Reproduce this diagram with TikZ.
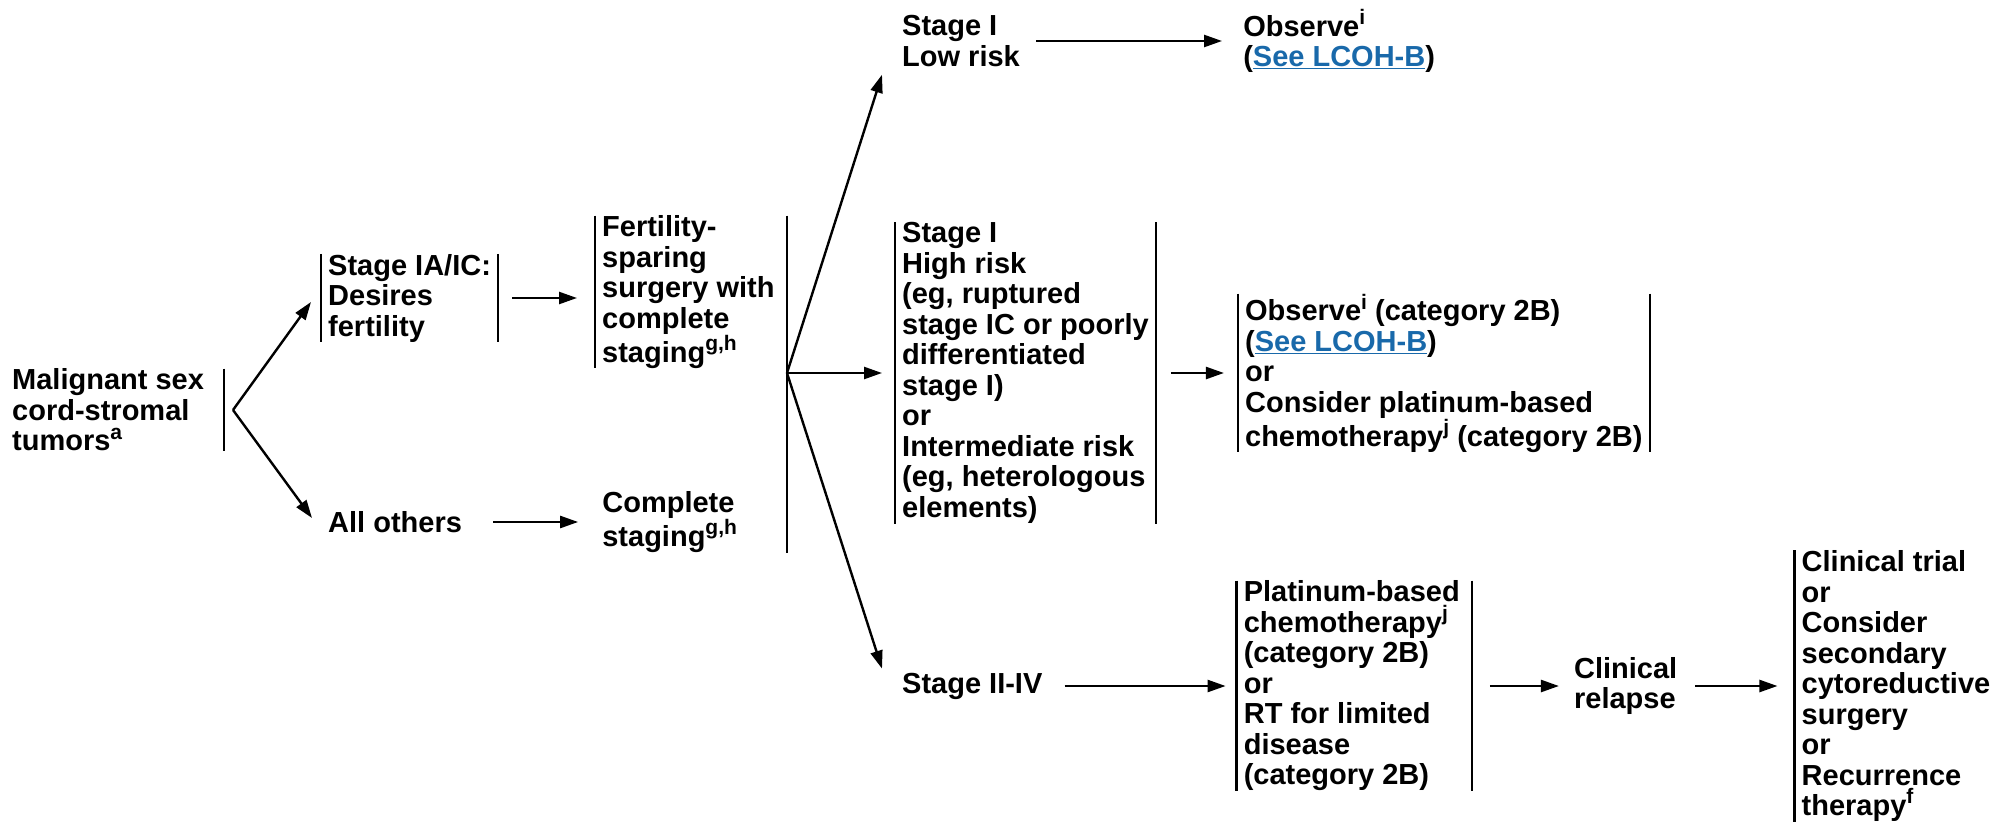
\documentclass[tikz,border=0pt]{standalone}
\usepackage{fontspec}
\setmainfont{Liberation Sans}
\usetikzlibrary{positioning,arrows.meta}

\definecolor{linkblue}{RGB}{25,105,170}
\newcommand{\fn}[1]{\raisebox{0.4em}{\fontsize{21}{21}\selectfont #1}}
\tikzset{
  box/.style={align=left, inner xsep=7pt, inner ysep=0pt, font=\bfseries\fontsize{29}{30.5}\selectfont},
  bar/.style={line width=2.6pt},
  arr/.style={line width=2.4pt, -{Triangle[length=18pt,width=12pt]}},
}

\begin{document}
\begin{tikzpicture}[x=1pt, y=-1pt]
        \useasboundingbox (0,0) rectangle (2011,830);
        \node[box, anchor=west] (tumor) at (5,410) {Malignant sex\\cord-stromal\\tumors\fn{a}} ; %
        \node[box, anchor=west] (desire) at (321,298) {Stage IA/IC:\\Desires\\fertility} ; %
        \node[box, anchor=west] (others) at (321,522) {All others} ; %
        \node[box, anchor=west] (sparing) at (595,292) {Fertility-\\sparing\\surgery with\\complete\\staging\fn{g,h}} ; %
        \node[box, right = 126pt of others] (complete) {Complete\\staging\fn{g,h}} ; %
        \node[box, anchor=west] (lowrisk) at (895,41) {Stage I\\Low risk} ; %
        \node[box, anchor=west] (highrisk) at (895,373) {Stage I\\High risk\\(eg, ruptured\\stage IC or poorly\\differentiated\\stage I)\\or\\Intermediate risk\\(eg, heterologous\\elements)} ; %
        \node[box, anchor=west] (advanced) at (895,686) {Stage II-IV} ; %
        \node[box, right = 209pt of lowrisk] (observe) {Observe\fn{i}\\(\textcolor{linkblue}{\underline{See LCOH-B}})} ; %
        \node[box, right = 82pt of highrisk] (optional) {Observe\fn{i} (category 2B)\\(\textcolor{linkblue}{\underline{See LCOH-B}})\\or\\Consider platinum-based\\chemotherapy\fn{j} (category 2B)} ; %
        \node[box, right = 187pt of advanced] (platinum) {Platinum-based\\chemotherapy\fn{j}\\(category 2B)\\or\\RT for limited\\disease\\(category 2B)} ; %
        \node[box, right = 100pt of platinum] (relapse) {Clinical\\relapse} ; %
        \node[box, right = 110pt of relapse] (recur) {Clinical trial\\or\\Consider\\secondary\\cytoreductive\\surgery\\or\\Recurrence\\therapy\fn{f}} ; %
        \coordinate (split) at (233,410) ; %
        \coordinate (branch) at (787,373) ; %
        %
        \draw[bar] ([xshift=13pt]tumor.north east) -- ([xshift=13pt]tumor.south east) ; %
        \draw[bar] (desire.north west) -- (desire.south west) (desire.north east) -- (desire.south east) ; %
        \draw[bar] (sparing.north west) -- (sparing.south west) ; %
        \draw[bar] (branch |- sparing.north) -- (branch |- complete.south) ; %
        \draw[bar] (highrisk.north west) -- (highrisk.south west) (highrisk.north east) -- (highrisk.south east) ; %
        \draw[bar] (optional.north west) -- (optional.south west) (optional.north east) -- (optional.south east) ; %
        \draw[bar] (platinum.north west) -- (platinum.south west) ([xshift=5pt]platinum.north east) -- ([xshift=5pt]platinum.south east) ; %
        \draw[bar] (recur.north west) -- (recur.south west) ; %
        %
        \draw[arr] (split) -- ([xshift=-10pt,yshift=-4pt]desire.west) ; %
        \draw[arr] (split) -- ([xshift=-9pt,yshift=4pt]others.west) ; %
        \draw[arr] ([xshift=14pt]desire.east) -- ([xshift=-18pt]desire.east -| sparing.west) ; %
        \draw[arr] ([xshift=24pt]others.east) -- ([xshift=-17pt]complete.west) ; %
        \draw[arr] (branch) -- ([xshift=-13pt,yshift=-8pt]lowrisk.south west) ; %
        \draw[arr] (branch) -- ([xshift=-13pt]highrisk.west) ; %
        \draw[arr] (branch) -- ([xshift=-13pt,yshift=4pt]advanced.north west) ; %
        \draw[arr] ([xshift=9pt]lowrisk.east) -- ([xshift=-14pt]observe.west) ; %
        \draw[arr] ([xshift=15pt]highrisk.east) -- ([xshift=-14pt]optional.west) ; %
        \draw[arr] ([xshift=15pt]advanced.east) -- ([xshift=-11pt]platinum.west) ; %
        \draw[arr] ([xshift=23pt]platinum.east) -- ([xshift=-8pt]relapse.west) ; %
        \draw[arr] ([xshift=11pt]relapse.east) -- ([xshift=-17pt]recur.west) ; %
\end{tikzpicture}
\end{document}
